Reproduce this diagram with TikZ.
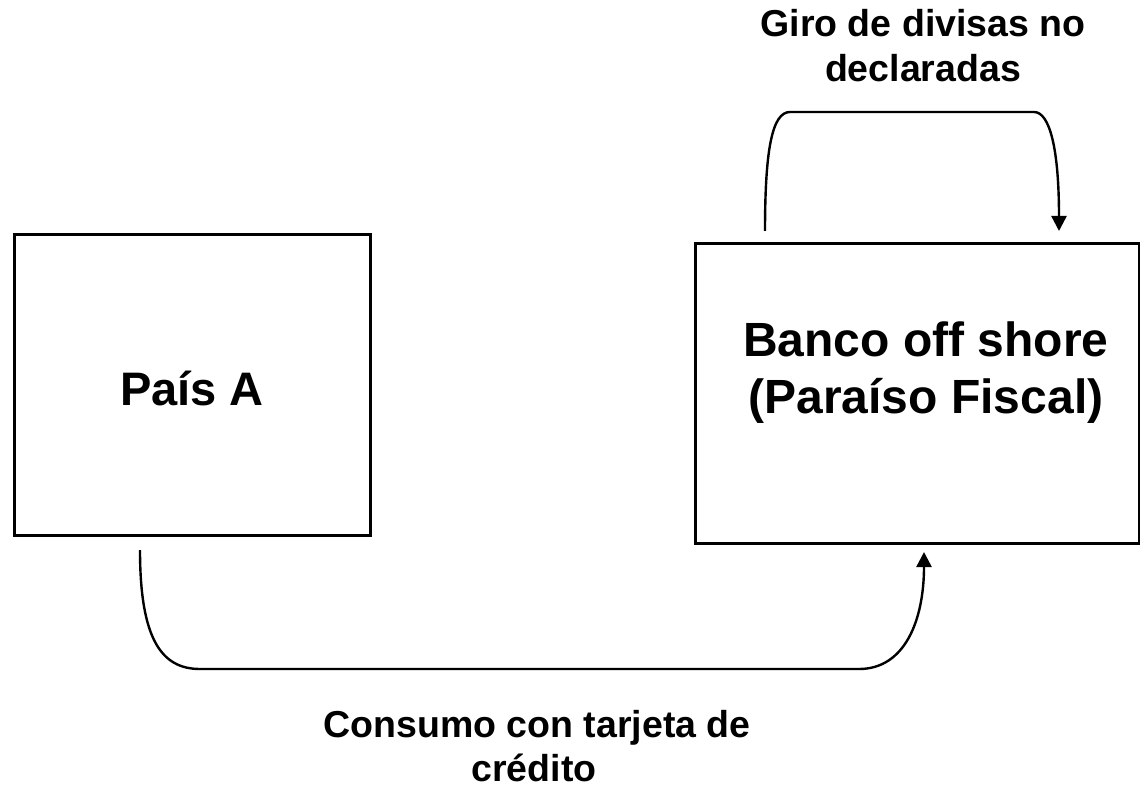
\documentclass[tikz,border=0pt]{standalone}
\usepackage{fontspec}
\setmainfont{Liberation Sans}
\usetikzlibrary{arrows.meta}
\tikzset{
  boxnode/.style={draw=black, line width=2.8pt, inner sep=0pt, anchor=north west},
  flow/.style={draw=black, line width=2.4pt, -{Triangle[length=15pt,width=15pt]}},
  lbl/.style={anchor=base, inner sep=0pt, font=\bfseries\fontsize{37.5}{42}\selectfont},
  boxtxt/.style={anchor=base, inner sep=0pt, font=\bfseries\fontsize{48}{56}\selectfont},
  paistxt/.style={anchor=base, inner sep=0pt, font=\bfseries\fontsize{47}{56}\selectfont}
}
\begin{document}
\begin{tikzpicture}[x=1pt,y=-1pt]
\useasboundingbox (0,0) rectangle (1140,786);
% boxes
\node[boxnode, minimum width=356pt, minimum height=301pt] (pais) at (13,233) {};
\node[boxnode, minimum width=444pt, minimum height=300pt] (banco) at (694,242) {};
% box texts
\node[paistxt] (paistext) at (192,405) {País A};
\node[boxtxt] (bancol1) at (926,356) {Banco off shore};
\node[boxtxt] (bancol2) at (926,413) {(Paraíso Fiscal)};
% connector end points
\coordinate (ts) at (765,231);
\coordinate (te) at (1059,231);
\coordinate (bs) at (140,550);
\coordinate (be) at (924,552);
% top connector
\draw[flow] (ts) .. controls (765,150) and (772,112) .. (790,112)
  -- (1034,112) .. controls (1050,112) and (1059,150) .. (te);
% bottom connector
\draw[flow] (bs) .. controls (140,640) and (162,669) .. (200,669)
  -- (859,669) .. controls (905,669) and (924,620) .. (be);
% labels
\node[lbl] (girol1) at (923,37) {Giro de divisas no};
\node[lbl] (girol2) at (923,82) {declaradas};
\node[lbl] (consl1) at (537,737) {Consumo con tarjeta de};
\node[lbl] (consl2) at (534,781) {crédito};
\end{tikzpicture}
\end{document}
